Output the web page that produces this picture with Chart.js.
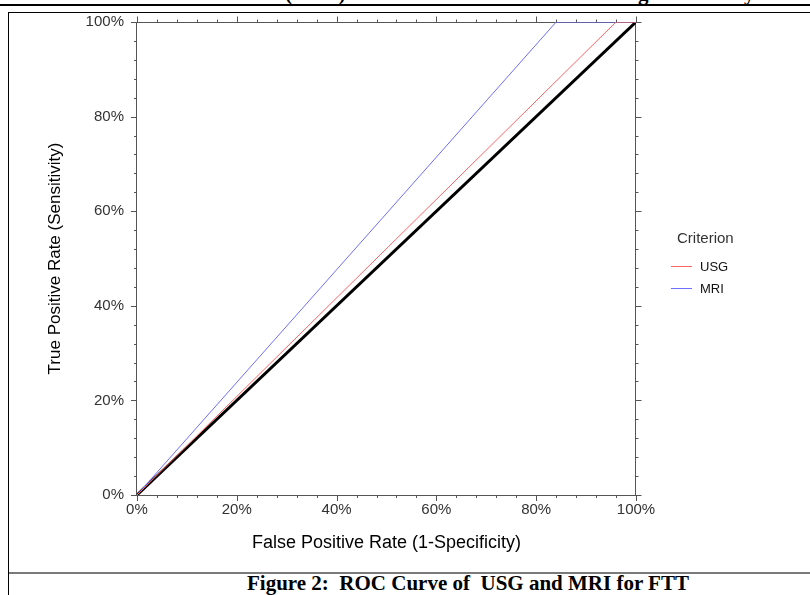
<!DOCTYPE html>
<html><head><meta charset="utf-8">
<script src="https://cdn.jsdelivr.net/npm/chart.js@4.4.0/dist/chart.umd.min.js"></script>
<style>
html,body{margin:0;padding:0;background:#fff;width:810px;height:595px;overflow:hidden;}
body{position:relative;font-family:"Liberation Sans",Arial,sans-serif;}
#c{position:absolute;left:0;top:0;}
.topline{position:absolute;left:0;top:4px;width:810px;height:2px;background:#000;}
.box{position:absolute;left:8px;top:12px;width:820px;height:600px;border-left:1px solid #000;border-top:1px solid #000;}
.sep{position:absolute;left:9px;top:572px;width:801px;height:2px;background:#7a7a7a;}
.cap{position:absolute;left:247px;top:573px;font:bold 21px/21px "Liberation Serif","Times New Roman",serif;white-space:pre;color:#000;}
.frag{position:absolute;top:-17px;font:bold 21px/21px "Liberation Serif","Times New Roman",serif;white-space:pre;color:#000;}
#legend{position:absolute;left:0;top:0;font-family:"Liberation Sans",Arial,sans-serif;color:#333;}
#legend .t{position:absolute;left:677px;top:229px;font-size:15px;line-height:18px;white-space:nowrap;}
#legend .it{position:absolute;left:671px;height:16px;white-space:nowrap;}
#legend .ln{position:absolute;left:0;top:7px;width:21px;height:1px;}
#legend .lb{position:absolute;left:29px;top:0;font-size:13px;line-height:16px;color:#111;}
</style></head><body>
<div class="frag" style="left:285px">(ROC)</div>
<div class="frag" style="left:638px">g</div>
<div class="frag" style="left:744px">y</div>
<div class="topline"></div>
<div class="box"></div>
<div class="sep"></div>
<div class="cap">Figure 2:  ROC Curve of  USG and MRI for FTT</div>
<canvas id="c" width="810" height="595" style="width:810px;height:595px"></canvas>
<div id="legend"></div>
<script>
// ---- data ----
const tickValues = [0, 20, 40, 60, 80, 100];
const tickLabels = ['0%', '20%', '40%', '60%', '80%', '100%'];
const minorStep = 4;
const seriesNames = ['USG', 'MRI'];
const usgFpr = [0, 96, 100];
const usgTpr = [0, 100, 100];
const mriFpr = [0, 84, 100];
const mriTpr = [0, 100, 100];
const refFpr = [0, 100];
const refTpr = [0, 100];
const legendTitle = 'Criterion';
const xTitle = 'False Positive Rate (1-Specificity)';
const yTitle = 'True Positive Rate (Sensitivity)';

const pts = (xs, ys) => xs.map((v, i) => ({x: v, y: ys[i]}));
const FONT = '"Liberation Sans", Arial, sans-serif';
const fmt = v => { const i = tickValues.indexOf(v); return i >= 0 ? tickLabels[i] : ''; };

// frame (top/right edges) and tick marks on all four sides, placed through the scales
const frameTicks = {
  id: 'frameTicks',
  beforeDatasetsDraw(chart) {
    const {ctx, chartArea: a, scales: {x, y}} = chart;
    ctx.save();
    ctx.strokeStyle = '#555';
    ctx.lineWidth = 1;
    ctx.beginPath();
    const top = Math.round(y.getPixelForValue(100)) + 0.5;
    const right = Math.round(x.getPixelForValue(100)) - 0.5;
    ctx.moveTo(a.left, top); ctx.lineTo(right + 0.5, top);
    ctx.moveTo(right, top); ctx.lineTo(right, a.bottom);
    for (let v = 0; v <= 100; v += minorStep) {
      const L = tickValues.includes(v) ? 6 : 3;
      const px = Math.round(x.getPixelForValue(v)) + 0.5;
      const py = Math.round(y.getPixelForValue(v)) + 0.5;
      ctx.moveTo(px, a.bottom); ctx.lineTo(px, a.bottom + L);
      ctx.moveTo(px, top); ctx.lineTo(px, top - L);
      ctx.moveTo(a.left, py); ctx.lineTo(a.left - L, py);
      ctx.moveTo(right, py); ctx.lineTo(right + L, py);
    }
    ctx.stroke();
    ctx.beginPath();
    ctx.restore();
  }
};

const chart = new Chart(document.getElementById('c'), {
  type: 'scatter',
  data: {
    datasets: [
      {label: seriesNames[0], data: pts(usgFpr, usgTpr), showLine: true, borderColor: '#ff6464', borderWidth: 1, pointRadius: 0},
      {label: seriesNames[1], data: pts(mriFpr, mriTpr), showLine: true, borderColor: '#6e6eff', borderWidth: 1, pointRadius: 0},
      {label: 'reference', data: pts(refFpr, refTpr), showLine: true, borderColor: '#000', borderWidth: 3, pointRadius: 0}
    ]
  },
  options: {
    responsive: false,
    animation: false,
    layout: {padding: {top: 22, right: 174, left: 0, bottom: 35}},
    plugins: {legend: {display: false}},
    scales: {
      x: {
        min: 0, max: 100,
        grid: {display: false, drawTicks: false},
        border: {display: true, color: '#555'},
        ticks: {stepSize: 20, padding: 6, color: '#333', font: {size: 15, family: FONT}, callback: fmt, maxRotation: 0},
        title: {display: true, text: xTitle, color: '#000', font: {size: 18, family: FONT}, padding: {top: 7.4, bottom: 6}}
      },
      y: {
        min: 0, max: 100,
        grid: {display: false, drawTicks: false},
        border: {display: true, color: '#555'},
        ticks: {stepSize: 20, padding: 13, color: '#333', font: {size: 15, family: FONT}, callback: fmt},
        title: {display: true, text: yTitle, color: '#000', font: {size: 17, family: FONT}, padding: {top: 45, bottom: 7.2}}
      }
    }
  },
  plugins: [frameTicks]
});

// HTML legend built from the chart's series
const lg = document.getElementById('legend');
const t = document.createElement('div');
t.className = 't'; t.textContent = legendTitle; lg.appendChild(t);
chart.data.datasets.filter(d => seriesNames.includes(d.label)).forEach((d, i) => {
  const it = document.createElement('div');
  it.className = 'it';
  it.style.top = (259 + i * 22) + 'px';
  const ln = document.createElement('div');
  ln.className = 'ln'; ln.style.background = d.borderColor;
  const lb = document.createElement('div');
  lb.className = 'lb'; lb.textContent = d.label;
  it.appendChild(ln); it.appendChild(lb);
  lg.appendChild(it);
});
</script>
</body></html>
